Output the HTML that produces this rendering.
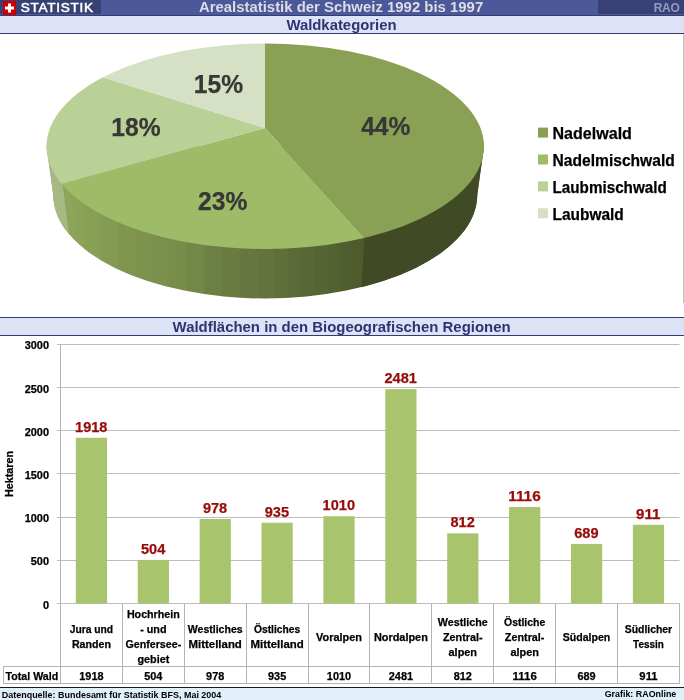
<!DOCTYPE html>
<html lang="de"><head><meta charset="utf-8"><title>Arealstatistik der Schweiz 1992 bis 1997 - Waldkategorien</title>
<style>
html,body{margin:0;padding:0;background:#fff;}
body{width:684px;height:700px;overflow:hidden;font-family:"Liberation Sans",sans-serif;}
svg{display:block}
text{font-family:"Liberation Sans",sans-serif;font-weight:bold;}
.cal{fill:#000;}
</style></head><body>
<svg width="684" height="700" viewBox="0 0 684 700">
<defs>
<linearGradient id="side23" gradientUnits="userSpaceOnUse" x1="62" y1="0" x2="365" y2="0"><stop offset="0.0063" stop-color="#8da45b"/><stop offset="0.0369" stop-color="#8da45b"/><stop offset="0.0449" stop-color="#8ba259"/><stop offset="0.0729" stop-color="#8ba259"/><stop offset="0.0809" stop-color="#889f56"/><stop offset="0.1188" stop-color="#889f56"/><stop offset="0.1268" stop-color="#849b53"/><stop offset="0.1815" stop-color="#849b53"/><stop offset="0.1895" stop-color="#80964f"/><stop offset="0.2369" stop-color="#80964f"/><stop offset="0.2449" stop-color="#7d934d"/><stop offset="0.2930" stop-color="#7d934d"/><stop offset="0.3010" stop-color="#7b904c"/><stop offset="0.3491" stop-color="#7b904c"/><stop offset="0.3571" stop-color="#798d4a"/><stop offset="0.4052" stop-color="#798d4a"/><stop offset="0.4132" stop-color="#738747"/><stop offset="0.4646" stop-color="#738747"/><stop offset="0.4726" stop-color="#6d8043"/><stop offset="0.5227" stop-color="#6d8043"/><stop offset="0.5307" stop-color="#697b41"/><stop offset="0.5831" stop-color="#697b41"/><stop offset="0.5911" stop-color="#65773f"/><stop offset="0.6432" stop-color="#65773f"/><stop offset="0.6512" stop-color="#62733d"/><stop offset="0.6963" stop-color="#62733d"/><stop offset="0.7043" stop-color="#5e6f3a"/><stop offset="0.7399" stop-color="#5e6f3a"/><stop offset="0.7479" stop-color="#5b6b37"/><stop offset="0.7808" stop-color="#5b6b37"/><stop offset="0.7888" stop-color="#586735"/><stop offset="0.8277" stop-color="#586735"/><stop offset="0.8357" stop-color="#556432"/><stop offset="0.8739" stop-color="#556432"/><stop offset="0.8819" stop-color="#526130"/><stop offset="0.9168" stop-color="#526130"/><stop offset="0.9248" stop-color="#505e2f"/><stop offset="0.9564" stop-color="#505e2f"/><stop offset="0.9644" stop-color="#4e5b2d"/><stop offset="0.9960" stop-color="#4e5b2d"/></linearGradient>
</defs>
<rect width="684" height="700" fill="#fff"/>

<g id="header">
<rect x="0" y="0" width="684" height="16" fill="#4b599b"/>
<rect x="0" y="0" width="101" height="14" fill="#374173"/>
<rect x="598" y="0" width="86" height="14" fill="#374173"/>
<rect x="0" y="15" width="684" height="1" fill="#343d72"/>
<rect x="0" y="16" width="684" height="17" fill="#dde2f6"/>
<rect x="0" y="33" width="684" height="1" fill="#343d72"/>
<rect x="3" y="1" width="13" height="14" fill="#cc0000"/>
<rect x="8" y="3.5" width="3" height="9" fill="#fff"/>
<rect x="5" y="6.5" width="9" height="3" fill="#fff"/>
<text x="20.8" y="12" font-size="13.6" fill="#fff" stroke="#fff" stroke-width="0.55" style="font-weight:normal" textLength="72.3" lengthAdjust="spacing">STATISTIK</text>
<text x="198.9" y="11.9" font-size="14" fill="#dddde2" textLength="284.3" lengthAdjust="spacingAndGlyphs">Arealstatistik der Schweiz 1992 bis 1997</text>
<text x="653.7" y="12" font-size="12" fill="#949ac2" textLength="26.1" lengthAdjust="spacing">RAO</text>
<text x="286.4" y="30" font-size="14" fill="#2c3572" textLength="110.2" lengthAdjust="spacingAndGlyphs">Waldkategorien</text>
</g>

<g id="pie">
<clipPath id="hull"><path d="M46.50,146.25 L53.25,195.0 A212.0 103.5 0 0 0 477.25,195.0 L484.00,146.25 Z"/></clipPath>
<clipPath id="topc"><ellipse cx="265.25" cy="146.25" rx="218.75" ry="102.75"/></clipPath>
<g clip-path="url(#hull)">
<rect x="0" y="100" width="684" height="220" fill="url(#side23)"/>
<polygon points="-10,0 62.50,0 62.50,183.75 68.76,232.77 68.76,320 -10,320" fill="#a6b883"/>
<polygon points="700,0 364.50,0 364.50,237.50 361.44,286.92 361.44,320 700,320" fill="#404b25"/>
</g>
<g clip-path="url(#topc)">
<polygon points="265.00,128.00 265.00,-125.50 900,-300 900,600 563.50,456.50" fill="#8aa155"/>
<polygon points="265.00,128.00 563.50,456.50 300,900 -300,900 -342.50,295.25" fill="#9ebc68"/>
<polygon points="265.00,128.00 -342.50,295.25 -500,100 -218.75,-23.50" fill="#b9d097"/>
<polygon points="265.00,128.00 -218.75,-23.50 -300,-300 265.00,-125.50" fill="#d5e0c5"/>
</g>

<text x="385.80" y="135.00" font-size="25.89" fill="#373737" text-anchor="middle" textLength="49.3" lengthAdjust="spacingAndGlyphs" stroke="#373737" stroke-width="0.25">44%</text>
<text x="222.75" y="210.00" font-size="25.89" fill="#373737" text-anchor="middle" textLength="49.3" lengthAdjust="spacingAndGlyphs" stroke="#373737" stroke-width="0.25">23%</text>
<text x="135.90" y="136.25" font-size="25.89" fill="#373737" text-anchor="middle" textLength="49.3" lengthAdjust="spacingAndGlyphs" stroke="#373737" stroke-width="0.25">18%</text>
<text x="218.40" y="93.00" font-size="25.89" fill="#373737" text-anchor="middle" textLength="49.3" lengthAdjust="spacingAndGlyphs" stroke="#373737" stroke-width="0.25">15%</text>
</g>
<g id="legend">
<rect x="538" y="127.6" width="10" height="10" fill="#8aa155"/>
<text x="552.50" y="139.10" font-size="16.33" fill="#000" text-anchor="start" textLength="79.4" lengthAdjust="spacingAndGlyphs" stroke="#000" stroke-width="0.25">Nadelwald</text>
<rect x="538" y="154.5" width="10" height="10" fill="#9ebc68"/>
<text x="552.50" y="166.00" font-size="16.33" fill="#000" text-anchor="start" textLength="122.3" lengthAdjust="spacingAndGlyphs" stroke="#000" stroke-width="0.25">Nadelmischwald</text>
<rect x="538" y="181.4" width="10" height="10" fill="#b9d097"/>
<text x="552.50" y="192.90" font-size="16.33" fill="#000" text-anchor="start" textLength="114.3" lengthAdjust="spacingAndGlyphs" stroke="#000" stroke-width="0.25">Laubmischwald</text>
<rect x="538" y="208.3" width="10" height="10" fill="#d5e0c5"/>
<text x="552.50" y="219.80" font-size="16.33" fill="#000" text-anchor="start" textLength="71.3" lengthAdjust="spacingAndGlyphs" stroke="#000" stroke-width="0.25">Laubwald</text>
</g>
<rect x="683" y="34" width="1" height="269" fill="#c2c2c2"/>
<g id="title2">
<rect x="0" y="317" width="684" height="19" fill="#dde2f6"/>
<rect x="0" y="317" width="684" height="1" fill="#343d72"/>
<rect x="0" y="335" width="684" height="1" fill="#343d72"/>
<text x="172.6" y="331.5" font-size="14" fill="#2c3572" textLength="338" lengthAdjust="spacingAndGlyphs">Waldflächen in den Biogeografischen Regionen</text>
</g>

<g id="bars">
<line x1="57" y1="603.5" x2="679.5" y2="603.5" stroke="#bcbcbc" stroke-width="1"/>
<text x="49.00" y="608.50" font-size="10.98" fill="#000" text-anchor="end" textLength="6.1" lengthAdjust="spacingAndGlyphs" stroke="#000" stroke-width="0.25">0</text>
<line x1="57" y1="560.5" x2="679.5" y2="560.5" stroke="#bcbcbc" stroke-width="1"/>
<text x="49.00" y="565.30" font-size="10.98" fill="#000" text-anchor="end" textLength="18.2" lengthAdjust="spacingAndGlyphs" stroke="#000" stroke-width="0.25">500</text>
<line x1="57" y1="517.5" x2="679.5" y2="517.5" stroke="#bcbcbc" stroke-width="1"/>
<text x="49.00" y="522.10" font-size="10.98" fill="#000" text-anchor="end" textLength="24.3" lengthAdjust="spacingAndGlyphs" stroke="#000" stroke-width="0.25">1000</text>
<line x1="57" y1="473.5" x2="679.5" y2="473.5" stroke="#bcbcbc" stroke-width="1"/>
<text x="49.00" y="478.90" font-size="10.98" fill="#000" text-anchor="end" textLength="24.3" lengthAdjust="spacingAndGlyphs" stroke="#000" stroke-width="0.25">1500</text>
<line x1="57" y1="430.5" x2="679.5" y2="430.5" stroke="#bcbcbc" stroke-width="1"/>
<text x="49.00" y="435.70" font-size="10.98" fill="#000" text-anchor="end" textLength="24.3" lengthAdjust="spacingAndGlyphs" stroke="#000" stroke-width="0.25">2000</text>
<line x1="57" y1="387.5" x2="679.5" y2="387.5" stroke="#bcbcbc" stroke-width="1"/>
<text x="49.00" y="392.50" font-size="10.98" fill="#000" text-anchor="end" textLength="24.3" lengthAdjust="spacingAndGlyphs" stroke="#000" stroke-width="0.25">2500</text>
<line x1="57" y1="344.5" x2="679.5" y2="344.5" stroke="#bcbcbc" stroke-width="1"/>
<text x="49.00" y="349.30" font-size="10.98" fill="#000" text-anchor="end" textLength="24.3" lengthAdjust="spacingAndGlyphs" stroke="#000" stroke-width="0.25">3000</text>
<line x1="60.5" y1="344" x2="60.5" y2="684" stroke="#b4b4b4" stroke-width="1"/>
<rect x="75.84" y="437.78" width="31.2" height="165.72" fill="#a8c46c"/>
<text x="91.24" y="431.88" font-size="14.64" fill="#960c08" text-anchor="middle" textLength="32.4" lengthAdjust="spacingAndGlyphs" stroke="#960c08" stroke-width="0.25">1918</text>
<line x1="122.5" y1="603" x2="122.5" y2="684" stroke="#b4b4b4" stroke-width="1"/>
<text x="91.44" y="633.00" font-size="11.25" fill="#000" text-anchor="middle" textLength="43.4" lengthAdjust="spacingAndGlyphs" stroke="#000" stroke-width="0.25">Jura und</text>
<text x="91.44" y="648.00" font-size="11.25" fill="#000" text-anchor="middle" textLength="39.0" lengthAdjust="spacingAndGlyphs" stroke="#000" stroke-width="0.25">Randen</text>
<text x="91.44" y="680.00" font-size="10.98" fill="#000" text-anchor="middle" textLength="24.3" lengthAdjust="spacingAndGlyphs" stroke="#000" stroke-width="0.25">1918</text>
<rect x="137.74" y="559.95" width="31.2" height="43.55" fill="#a8c46c"/>
<text x="153.14" y="554.05" font-size="14.64" fill="#960c08" text-anchor="middle" textLength="24.3" lengthAdjust="spacingAndGlyphs" stroke="#960c08" stroke-width="0.25">504</text>
<line x1="184.5" y1="603" x2="184.5" y2="684" stroke="#b4b4b4" stroke-width="1"/>
<text x="153.34" y="618.00" font-size="11.25" fill="#000" text-anchor="middle" textLength="52.9" lengthAdjust="spacingAndGlyphs" stroke="#000" stroke-width="0.25">Hochrhein</text>
<text x="153.34" y="633.00" font-size="11.25" fill="#000" text-anchor="middle" textLength="26.3" lengthAdjust="spacingAndGlyphs" stroke="#000" stroke-width="0.25">- und</text>
<text x="153.34" y="648.00" font-size="11.25" fill="#000" text-anchor="middle" textLength="55.7" lengthAdjust="spacingAndGlyphs" stroke="#000" stroke-width="0.25">Genfersee-</text>
<text x="153.34" y="663.00" font-size="11.25" fill="#000" text-anchor="middle" textLength="31.9" lengthAdjust="spacingAndGlyphs" stroke="#000" stroke-width="0.25">gebiet</text>
<text x="153.34" y="680.00" font-size="10.98" fill="#000" text-anchor="middle" textLength="18.2" lengthAdjust="spacingAndGlyphs" stroke="#000" stroke-width="0.25">504</text>
<rect x="199.62" y="519.00" width="31.2" height="84.50" fill="#a8c46c"/>
<text x="215.03" y="513.10" font-size="14.64" fill="#960c08" text-anchor="middle" textLength="24.3" lengthAdjust="spacingAndGlyphs" stroke="#960c08" stroke-width="0.25">978</text>
<line x1="246.5" y1="603" x2="246.5" y2="684" stroke="#b4b4b4" stroke-width="1"/>
<text x="215.22" y="633.00" font-size="11.25" fill="#000" text-anchor="middle" textLength="54.8" lengthAdjust="spacingAndGlyphs" stroke="#000" stroke-width="0.25">Westliches</text>
<text x="215.22" y="648.00" font-size="11.25" fill="#000" text-anchor="middle" textLength="53.2" lengthAdjust="spacingAndGlyphs" stroke="#000" stroke-width="0.25">Mittelland</text>
<text x="215.22" y="680.00" font-size="10.98" fill="#000" text-anchor="middle" textLength="18.2" lengthAdjust="spacingAndGlyphs" stroke="#000" stroke-width="0.25">978</text>
<rect x="261.51" y="522.72" width="31.2" height="80.78" fill="#a8c46c"/>
<text x="276.92" y="516.82" font-size="14.64" fill="#960c08" text-anchor="middle" textLength="24.3" lengthAdjust="spacingAndGlyphs" stroke="#960c08" stroke-width="0.25">935</text>
<line x1="308.5" y1="603" x2="308.5" y2="684" stroke="#b4b4b4" stroke-width="1"/>
<text x="277.12" y="633.00" font-size="11.25" fill="#000" text-anchor="middle" textLength="46.2" lengthAdjust="spacingAndGlyphs" stroke="#000" stroke-width="0.25">Östliches</text>
<text x="277.12" y="648.00" font-size="11.25" fill="#000" text-anchor="middle" textLength="53.2" lengthAdjust="spacingAndGlyphs" stroke="#000" stroke-width="0.25">Mittelland</text>
<text x="277.12" y="680.00" font-size="10.98" fill="#000" text-anchor="middle" textLength="18.2" lengthAdjust="spacingAndGlyphs" stroke="#000" stroke-width="0.25">935</text>
<rect x="323.40" y="516.24" width="31.2" height="87.26" fill="#a8c46c"/>
<text x="338.81" y="510.34" font-size="14.64" fill="#960c08" text-anchor="middle" textLength="32.4" lengthAdjust="spacingAndGlyphs" stroke="#960c08" stroke-width="0.25">1010</text>
<line x1="369.5" y1="603" x2="369.5" y2="684" stroke="#b4b4b4" stroke-width="1"/>
<text x="339.00" y="640.50" font-size="11.25" fill="#000" text-anchor="middle" textLength="45.9" lengthAdjust="spacingAndGlyphs" stroke="#000" stroke-width="0.25">Voralpen</text>
<text x="339.00" y="680.00" font-size="10.98" fill="#000" text-anchor="middle" textLength="24.3" lengthAdjust="spacingAndGlyphs" stroke="#000" stroke-width="0.25">1010</text>
<rect x="385.29" y="389.14" width="31.2" height="214.36" fill="#a8c46c"/>
<text x="400.69" y="383.24" font-size="14.64" fill="#960c08" text-anchor="middle" textLength="32.4" lengthAdjust="spacingAndGlyphs" stroke="#960c08" stroke-width="0.25">2481</text>
<line x1="431.5" y1="603" x2="431.5" y2="684" stroke="#b4b4b4" stroke-width="1"/>
<text x="400.89" y="640.50" font-size="11.25" fill="#000" text-anchor="middle" textLength="54.0" lengthAdjust="spacingAndGlyphs" stroke="#000" stroke-width="0.25">Nordalpen</text>
<text x="400.89" y="680.00" font-size="10.98" fill="#000" text-anchor="middle" textLength="24.3" lengthAdjust="spacingAndGlyphs" stroke="#000" stroke-width="0.25">2481</text>
<rect x="447.19" y="533.34" width="31.2" height="70.16" fill="#a8c46c"/>
<text x="462.59" y="527.44" font-size="14.64" fill="#960c08" text-anchor="middle" textLength="24.3" lengthAdjust="spacingAndGlyphs" stroke="#960c08" stroke-width="0.25">812</text>
<line x1="493.5" y1="603" x2="493.5" y2="684" stroke="#b4b4b4" stroke-width="1"/>
<text x="462.79" y="625.50" font-size="11.25" fill="#000" text-anchor="middle" textLength="49.9" lengthAdjust="spacingAndGlyphs" stroke="#000" stroke-width="0.25">Westliche</text>
<text x="462.79" y="640.50" font-size="11.25" fill="#000" text-anchor="middle" textLength="39.6" lengthAdjust="spacingAndGlyphs" stroke="#000" stroke-width="0.25">Zentral-</text>
<text x="462.79" y="655.50" font-size="11.25" fill="#000" text-anchor="middle" textLength="28.5" lengthAdjust="spacingAndGlyphs" stroke="#000" stroke-width="0.25">alpen</text>
<text x="462.79" y="680.00" font-size="10.98" fill="#000" text-anchor="middle" textLength="18.2" lengthAdjust="spacingAndGlyphs" stroke="#000" stroke-width="0.25">812</text>
<rect x="509.07" y="507.08" width="31.2" height="96.42" fill="#a8c46c"/>
<text x="524.47" y="501.18" font-size="14.64" fill="#960c08" text-anchor="middle" textLength="32.4" lengthAdjust="spacingAndGlyphs" stroke="#960c08" stroke-width="0.25">1116</text>
<line x1="555.5" y1="603" x2="555.5" y2="684" stroke="#b4b4b4" stroke-width="1"/>
<text x="524.67" y="625.50" font-size="11.25" fill="#000" text-anchor="middle" textLength="41.3" lengthAdjust="spacingAndGlyphs" stroke="#000" stroke-width="0.25">Östliche</text>
<text x="524.67" y="640.50" font-size="11.25" fill="#000" text-anchor="middle" textLength="39.6" lengthAdjust="spacingAndGlyphs" stroke="#000" stroke-width="0.25">Zentral-</text>
<text x="524.67" y="655.50" font-size="11.25" fill="#000" text-anchor="middle" textLength="28.5" lengthAdjust="spacingAndGlyphs" stroke="#000" stroke-width="0.25">alpen</text>
<text x="524.67" y="680.00" font-size="10.98" fill="#000" text-anchor="middle" textLength="24.3" lengthAdjust="spacingAndGlyphs" stroke="#000" stroke-width="0.25">1116</text>
<rect x="570.97" y="543.97" width="31.2" height="59.53" fill="#a8c46c"/>
<text x="586.37" y="538.07" font-size="14.64" fill="#960c08" text-anchor="middle" textLength="24.3" lengthAdjust="spacingAndGlyphs" stroke="#960c08" stroke-width="0.25">689</text>
<line x1="617.5" y1="603" x2="617.5" y2="684" stroke="#b4b4b4" stroke-width="1"/>
<text x="586.57" y="640.50" font-size="11.25" fill="#000" text-anchor="middle" textLength="47.5" lengthAdjust="spacingAndGlyphs" stroke="#000" stroke-width="0.25">Südalpen</text>
<text x="586.57" y="680.00" font-size="10.98" fill="#000" text-anchor="middle" textLength="18.2" lengthAdjust="spacingAndGlyphs" stroke="#000" stroke-width="0.25">689</text>
<rect x="632.86" y="524.79" width="31.2" height="78.71" fill="#a8c46c"/>
<text x="648.25" y="518.89" font-size="14.64" fill="#960c08" text-anchor="middle" textLength="24.3" lengthAdjust="spacingAndGlyphs" stroke="#960c08" stroke-width="0.25">911</text>
<line x1="679.5" y1="603" x2="679.5" y2="684" stroke="#b4b4b4" stroke-width="1"/>
<text x="648.46" y="633.00" font-size="11.25" fill="#000" text-anchor="middle" textLength="47.4" lengthAdjust="spacingAndGlyphs" stroke="#000" stroke-width="0.25">Südlicher</text>
<text x="648.46" y="648.00" font-size="11.25" fill="#000" text-anchor="middle" textLength="30.7" lengthAdjust="spacingAndGlyphs" stroke="#000" stroke-width="0.25">Tessin</text>
<text x="648.46" y="680.00" font-size="10.98" fill="#000" text-anchor="middle" textLength="18.2" lengthAdjust="spacingAndGlyphs" stroke="#000" stroke-width="0.25">911</text>
<line x1="3" y1="666.5" x2="680" y2="666.5" stroke="#b4b4b4" stroke-width="1"/>
<line x1="3" y1="683.5" x2="680" y2="683.5" stroke="#b4b4b4" stroke-width="1"/>
<line x1="3.5" y1="666" x2="3.5" y2="684" stroke="#b4b4b4" stroke-width="1"/>
<text x="5.50" y="680.00" font-size="10.98" fill="#000" text-anchor="start" textLength="52.7" lengthAdjust="spacingAndGlyphs" stroke="#000" stroke-width="0.25">Total Wald</text>
<text x="0.00" y="0.00" font-size="10.98" fill="#000" text-anchor="middle" textLength="45.9" lengthAdjust="spacingAndGlyphs" stroke="#000" stroke-width="0.25" transform="translate(12.7,474) rotate(-90)">Hektaren</text>
</g>
<g id="footer">
<rect x="0" y="687" width="684" height="13" fill="#e1eff9"/>
<rect x="0" y="687" width="684" height="1" fill="#1a1a2a"/>
<text x="1.8" y="697.5" font-size="9.2" fill="#000" textLength="219.5" lengthAdjust="spacingAndGlyphs">Datenquelle: Bundesamt für Statistik BFS, Mai 2004</text>
<text x="604.7" y="696.5" font-size="9.2" fill="#000" textLength="71.6" lengthAdjust="spacingAndGlyphs">Grafik: RAOnline</text>
</g>

</svg></body></html>
